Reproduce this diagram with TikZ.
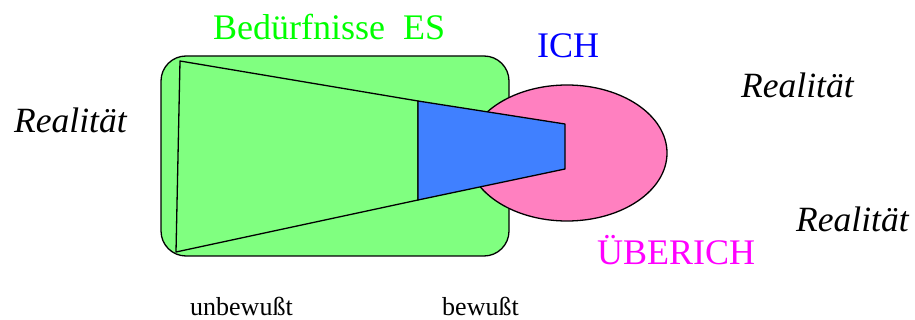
\documentclass[tikz,border=0pt]{standalone}
\usepackage{fontspec}
\setmainfont{Liberation Serif}
\definecolor{esfill}{RGB}{128,255,128}
\definecolor{ichfill}{RGB}{64,128,255}
\definecolor{ueberfill}{RGB}{255,128,192}
\definecolor{estext}{RGB}{0,255,0}
\definecolor{ichtext}{RGB}{0,0,255}
\definecolor{uebertext}{RGB}{255,0,255}
\tikzset{
  outline/.style={draw=black, line width=1.3pt, line join=round},
  bigtext/.style={anchor=base west, inner sep=0pt, font=\fontsize{36}{40}\selectfont},
  realtext/.style={anchor=base west, inner sep=0pt, font=\fontsize{35.5}{38}\selectfont\itshape},
  smalltext/.style={anchor=base west, inner sep=0pt, font=\fontsize{26}{28}\selectfont},
}
\begin{document}
\begin{tikzpicture}[x=1pt,y=-1pt]
\useasboundingbox (0,0) rectangle (915,320);
% ES rounded rectangle
\draw[outline, fill=esfill, rounded corners=25] (161,56) rectangle (509,256);
% Ueberich ellipse (over the rectangle)
\draw[outline, fill=ueberfill] (567,153) ellipse [x radius=100, y radius=68];
% trapezoid
\draw[outline, fill=esfill] (180,61) -- (418,101) -- (418,200) -- (176,252) -- cycle;
% ICH
\draw[outline, fill=ichfill] (418,101) -- (565,124) -- (565,169) -- (418,200) -- cycle;
% texts
\node[bigtext, text=estext] (es) at (213,40) {Bedürfnisse\ \ ES};
\node[bigtext, text=ichtext] (ich) at (537,58) {ICH};
\node[bigtext, text=uebertext] (ueber) at (597,265) {ÜBERICH};
\node[realtext] (real1) at (14,133) {Realität};
\node[realtext] (real2) at (741,98) {Realität};
\node[realtext] (real3) at (796,232) {Realität};
\node[smalltext] (unbew) at (190,315) {unbewußt};
\node[smalltext] (bew) at (442,315) {bewußt};
\end{tikzpicture}
\end{document}
